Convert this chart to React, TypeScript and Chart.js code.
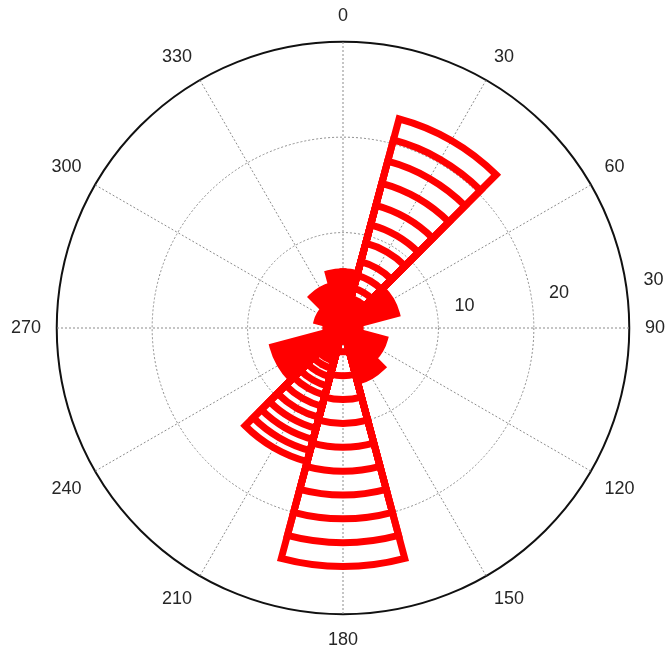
import React, { useEffect, useRef } from "react";
import { Chart, registerables } from "chart.js";

Chart.register(...registerables);

// Bearings (degrees, clockwise from north) of the twelve 30° bins
const bearingLabels = ["0", "30", "60", "90", "120", "150", "180", "210", "240", "270", "300", "330"];
const radialTicks = [10, 20, 30];

// Solid inner part of every bin, in counts
const coreCounts = [5.9, 2.8, 5.8, 1.8, 4.5, 5.8, 1.2, 3.2, 7.6, 1.8, 2.8, 4.6];

// Outlined layers of the three long petals (counts)
const petal30 = [3.2, 4.3, 5.7, 7.2, 9.2, 11.2, 13.3, 15.7, 18.1, 20.4, 22.7];
const petal180 = [2.5, 5, 7.5, 10, 12.5, 15, 17.5, 20, 22.5, 25];
const petal210 = [3.6, 4.4, 5.3, 6.3, 7.3, 8.5, 9.7, 10.9, 12.1, 13.3, 14.5];

const RED = "#ff0000";
const FONT_FAMILY = "'Liberation Sans', Arial, Helvetica, sans-serif";

// Bin index -> list of outlined layers
const petalLayers: Record<number, number[]> = { 1: petal30, 6: petal180, 7: petal210 };

// The north bin straddles 0°, so it is split in two half-slices:
// slice 0 covers 0..15°, slices 1..11 are the bins 30..330, slice 12 covers 345..360°.
const sliceBins = [0, 1, 2, 3, 4, 5, 6, 7, 8, 9, 10, 11, 0];
const sliceAngles = sliceBins.map((_, i) => (i === 0 || i === sliceBins.length - 1 ? 15 : 30));

const maxLayers = Math.max(...Object.values(petalLayers).map((l) => l.length));

function buildDatasets() {
  const datasets: any[] = [];
  datasets.push({
    label: "core",
    data: sliceBins.map((b) => coreCounts[b]),
    backgroundColor: RED,
    borderColor: RED,
    borderWidth: 7,
    borderJoinStyle: "miter",
    angle: (c: any) => sliceAngles[c.dataIndex],
  });
  for (let j = 0; j < maxLayers; j++) {
    const data = sliceBins.map((b) => {
      const l = petalLayers[b];
      return l && l[j] !== undefined ? l[j] : 0;
    });
    datasets.push({
      label: "layer " + (j + 1),
      data,
      backgroundColor: "rgba(0,0,0,0)",
      borderColor: RED,
      borderWidth: (c: any) => (data[c.dataIndex] > 0 ? 7 : 0),
      borderJoinStyle: "miter",
      angle: (c: any) => sliceAngles[c.dataIndex],
    });
  }
  return datasets;
}

// Radial value labels, upright, placed along the 82° bearing
const radialTickLabels = {
  id: "radialTickLabels",
  afterDatasetsDraw(chart: any) {
    const r = chart.scales.r;
    const ctx = chart.ctx;
    const a = (82 * Math.PI) / 180;
    ctx.save();
    ctx.font = `18px ${FONT_FAMILY}`;
    ctx.fillStyle = "#262626";
    ctx.textAlign = "left";
    ctx.textBaseline = "alphabetic";
    radialTicks.forEach((v) => {
      const d = r.getDistanceFromCenterForValue(v);
      const x = r.xCenter + d * Math.sin(a) + 17;
      const y = r.yCenter - d * Math.cos(a) - 3.5;
      ctx.fillText(String(v), x, y);
    });
    ctx.restore();
  },
};

export default function App() {
  const canvasRef = useRef<HTMLCanvasElement | null>(null);

  useEffect(() => {
    if (!canvasRef.current) return;
    const chart = new Chart(canvasRef.current, {
      type: "polarArea",
      data: {
        labels: bearingLabels,
        datasets: buildDatasets(),
      },
      options: {
        animation: false,
        responsive: false,
        events: [],
        layout: { padding: { left: 6, top: 7, right: 0, bottom: 2 } },
        plugins: {
          legend: { display: false },
          tooltip: { enabled: false },
        },
        scales: {
          r: {
            type: "radialLinear",
            min: 0,
            max: 30,
            startAngle: 0,
            ticks: { display: false, stepSize: 10 },
            grid: {
              circular: true,
              color: (c: any) => (c.tick && c.tick.value === 30 ? "#111111" : "#8c8c8c"),
              lineWidth: (c: any) => (c.tick && c.tick.value === 30 ? 2 : 1),
            },
            border: {
              dash: (c: any) => (c.tick && c.tick.value === 30 ? [] : [2, 2]),
            },
            angleLines: {
              display: true,
              color: "#8c8c8c",
              lineWidth: 1,
              borderDash: [2, 2],
            },
            pointLabels: {
              display: true,
              padding: 15.7,
              color: "#262626",
              font: { family: FONT_FAMILY, size: 18, lineHeight: 1.1 },
            },
          },
        },
      } as any,
      plugins: [radialTickLabels],
    });
    return () => chart.destroy();
  }, []);

  return (
    <div style={{ position: "fixed", left: 0, top: 0, width: 670, height: 653, background: "#ffffff" }}>
      <canvas ref={canvasRef} width={670} height={653} style={{ display: "block" }} />
    </div>
  );
}
